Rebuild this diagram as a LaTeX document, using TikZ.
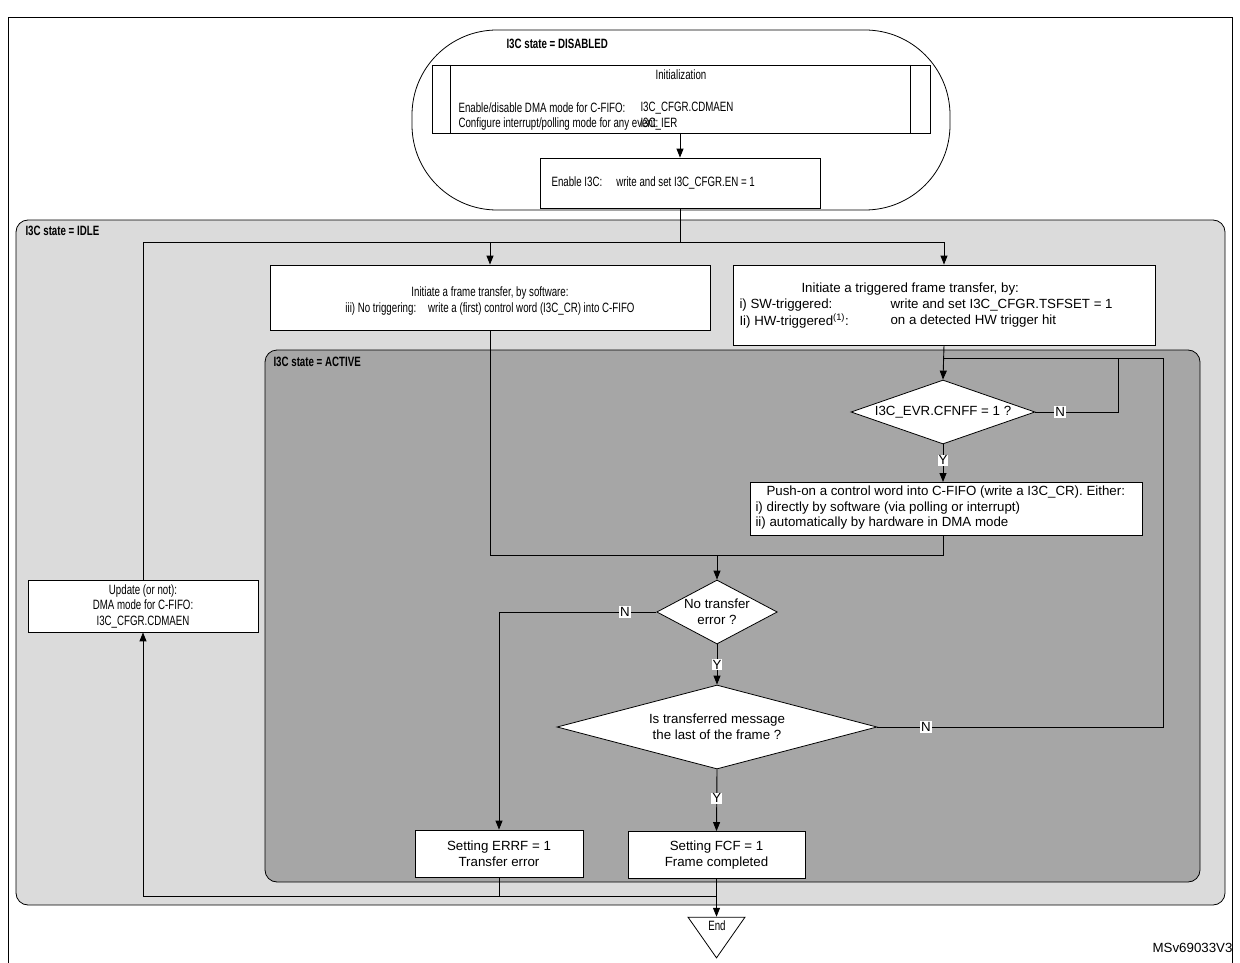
\documentclass[tikz,border=0pt]{standalone}
\usepackage{fontspec}
\setmainfont{Liberation Sans}
\newfontfamily\narrowf[FakeStretch=0.72]{Liberation Sans}
\usetikzlibrary{arrows.meta,shapes.geometric}
\begin{document}
\begin{tikzpicture}[x=1pt,y=-1pt,font=\fontsize{13.3}{16}\selectfont,
  nf/.style={font=\narrowf\fontsize{13.5}{15.5}\selectfont},
  box/.style={draw,fill=white,line width=0.8pt,inner sep=0pt},
  dia/.style={draw,fill=white,diamond,aspect=2.8,inner sep=1pt,line width=0.8pt,align=center},
  ln/.style={line width=0.9pt},
  arr/.style={ln,-{Triangle[length=9pt,width=7pt]}},
  yn/.style={fill=white,inner sep=1pt},
  st/.style={anchor=west,font=\narrowf\fontsize{13.5}{15.5}\selectfont\bfseries}]
\useasboundingbox (0,0) rectangle (1240,963);
\draw[line width=1pt] (8,18) -- (1232,18) -- (1232,964) (8,18) -- (8,964);
% IDLE
\draw[fill=black!14,line width=0.8pt,rounded corners=12] (16,220) rectangle (1225,905);
\node[st] at (22,231) {I3C state = IDLE};
% ACTIVE
\draw[fill=black!35,line width=0.8pt,rounded corners=12] (265,350) rectangle (1200,882);
\node[st] at (270,362) {I3C state = ACTIVE};
% DISABLED
\draw[fill=white,line width=0.8pt,rounded corners=85] (412,30) rectangle (950,210);
\node[st] at (503,44) {I3C state = DISABLED};
\draw[box] (432,65) rectangle (930,133);
\draw[line width=0.8pt] (450,65) -- (450,133) (910,65) -- (910,133);
\node[nf] at (681,75) {Initialization};
\node[anchor=west,nf] at (455,108) {Enable/disable DMA mode for C-FIFO:};
\node[anchor=west,nf] at (455,124) {Configure interrupt/polling mode for any event:};
\node[anchor=west,nf] at (637,108) {I3C\_CFGR.CDMAEN};
\node[anchor=west,nf] at (637,124) {I3C\_IER};
\coordinate (initb) at (680,133);
\node[box,minimum width=280pt,minimum height=50pt] (en) at (680,183) {};
\node[anchor=west,nf] at (548,183) {Enable I3C:\hspace{14pt}write and set I3C\_CFGR.EN = 1};
\draw[arr] (initb) -- (en.north);
% transfer boxes
\node[box,minimum width=440pt,minimum height=65pt] (sw) at (490,297.5) {};
\node[nf,align=center] at (490,301) {Initiate a frame transfer, by software:\\ iii) No triggering:\hspace{12pt}write a (first) control word (I3C\_CR) into C-FIFO};
\node[box,minimum width=422pt,minimum height=80pt] (hw) at (944,305) {};
\node[anchor=west] at (798,289) {Initiate a triggered frame transfer, by:};
\node[anchor=west] at (736,305) {i) SW-triggered:};
\node[anchor=west] at (736,321) {Ii) HW-triggered\textsuperscript{(1)}:};
\node[anchor=west] at (887,305) {write and set I3C\_CFGR.TSFSET = 1};
\node[anchor=west] at (887,321) {on a detected HW trigger hit};
% update box
\node[box,minimum width=230pt,minimum height=52pt,align=center,nf] (up) at (143,606) {Update (or not):\\DMA mode for C-FIFO:\\I3C\_CFGR.CDMAEN};
\coordinate (j0) at (680,242);
\draw[ln] (en.south) -- (j0);
\draw[arr] (j0) -| (sw.north);
\draw[arr] (j0) -| (hw.north);
\draw[ln] (up.north) |- (j0);
% diamond 1
\node[dia,minimum width=184pt,minimum height=64pt] (d1) at (943,412) {I3C\_EVR.CFNFF = 1 ?};
\coordinate (lp) at (943,358);
\draw[arr] (hw.south) -- (d1.north);
\draw[ln] (d1.east) -- node[yn,pos=0.3]{N} (1118,412) -- (1118,358) -- (lp);
\node[box,minimum width=392pt,minimum height=53pt] (push) at (946,508.5) {};
\node[anchor=west] at (763,492) {Push-on a control word into C-FIFO (write a I3C\_CR). Either:};
\node[anchor=west] at (752,508) {i) directly by software (via polling or interrupt)};
\node[anchor=west] at (752,523) {ii) automatically by hardware in DMA mode};
\draw[arr] (d1.south) -- node[yn,pos=0.42]{Y} (943,482);
\coordinate (j1) at (717,555);
\draw[ln] (943,535) |- (j1);
\draw[ln] (sw.south) |- (j1);
% diamond 2
\node[dia,minimum width=120pt,minimum height=64pt,aspect=1.9] (d2) at (717,612) {No transfer\\error ?};
\draw[arr] (j1) -- (d2.north);
\node[box,minimum width=168pt,minimum height=47pt,align=center] (err) at (499,853.5) {Setting ERRF = 1\\Transfer error};
\draw[arr] (d2.west) -- node[yn,pos=0.2]{N} (499,612) -- (err.north);
% diamond 3
\node[dia,minimum width=320pt,minimum height=84pt,aspect=3.8] (d3) at (717,727) {Is transferred message\\the last of the frame ?};
\draw[arr] (d2.south) -- node[yn,pos=0.5]{Y} (d3.north);
\draw[ln] (d3.east) -- node[yn,pos=0.17]{N} (1163,727) -- (1163,358) -- (lp);
\node[box,minimum width=177pt,minimum height=47pt,align=center] (fcf) at (716.5,855) {Setting FCF = 1\\Frame completed};
\draw[arr] (d3.south) -- node[yn,pos=0.47]{Y} (fcf.north);
% end
\node[draw,fill=white,isosceles triangle,shape border rotate=-90,isosceles triangle apex angle=70,minimum width=57pt,inner sep=0pt,line width=0.8pt] (end) at (716.5,932) {};
\node[nf] at (717,926) {End};
\coordinate (j2) at (717,896);
\draw[ln] (err.south) |- (j2);
\draw[arr] (fcf.south) -- (end.north);
\draw[arr] (j2) -| (up.south);
\node[anchor=east] at (1236,948) {MSv69033V3};
\end{tikzpicture}
\end{document}
